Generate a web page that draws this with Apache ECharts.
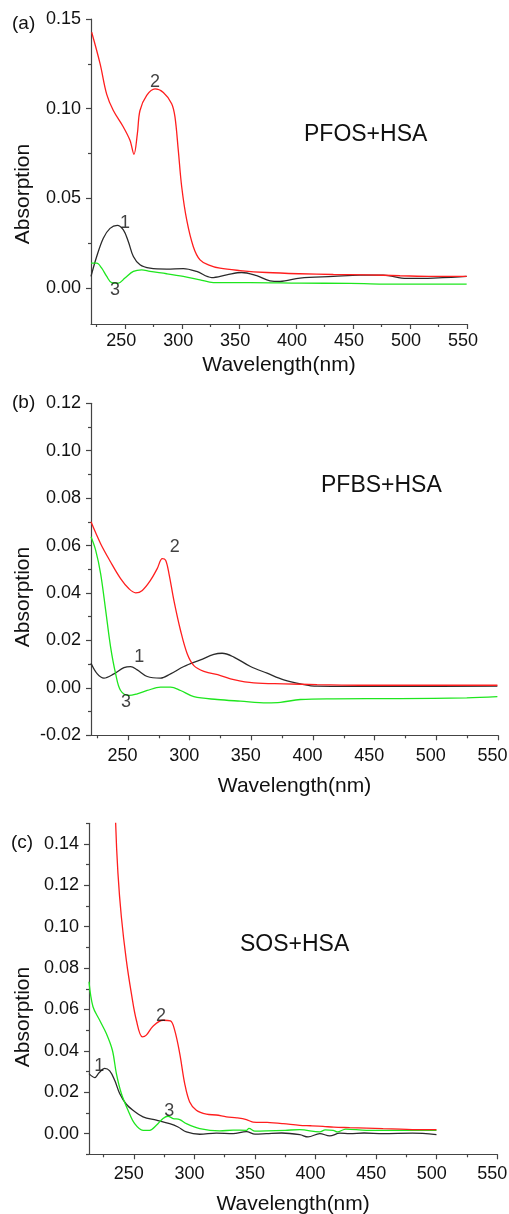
<!DOCTYPE html>
<html><head><meta charset="utf-8">
<script src="https://cdn.jsdelivr.net/npm/echarts@6/dist/echarts.min.js"></script>
<style>html,body{margin:0;padding:0;background:#fff}#c{width:509px;height:1214px}</style>
</head><body><div id="c"></div>
<script>
// ---------- data ----------
const xTicksMajor = [250, 300, 350, 400, 450, 500, 550];
const xTicksMinor = [225, 275, 325, 375, 425, 475, 525];
const yTicksA = [0, 0.05, 0.10, 0.15];
const yMinorA = [0.025, 0.075, 0.125];
const yTicksB = [-0.02, 0, 0.02, 0.04, 0.06, 0.08, 0.10, 0.12];
const yMinorB = [-0.01, 0.01, 0.03, 0.05, 0.07, 0.09, 0.11];
const yTicksC = [0, 0.02, 0.04, 0.06, 0.08, 0.10, 0.12, 0.14];
const yMinorC = [-0.01, 0.01, 0.03, 0.05, 0.07, 0.09, 0.11, 0.13, 0.15];

// (a) PFOS+HSA
const pfos1 = [[220,0.0065],[225,0.0176],[230.8,0.0278],[236.7,0.0333],[243.1,0.035],[248.4,0.0324],[252.8,0.0259],[257.2,0.0176],[263,0.013],[271.8,0.0111],[286.4,0.0106],[301,0.0109],[312.7,0.0093],[325.9,0.0059],[339.1,0.0074],[352.2,0.0087],[365.4,0.0069],[377.1,0.0041],[385.9,0.0037],[403.4,0.0056],[432.7,0.0065],[456.1,0.0072],[476.6,0.0072],[497,0.0054],[520.5,0.0056],[549.7,0.0065]];
const pfos2 = [[220.6,0.1426],[228,0.125],[233.8,0.108],[239.6,0.099],[248.4,0.0898],[254.2,0.0824],[257.7,0.0746],[260.7,0.0861],[263,0.099],[268.9,0.1074],[276.2,0.111],[283.5,0.109],[290.8,0.1028],[293.7,0.0954],[296.6,0.0769],[299.6,0.0565],[304,0.038],[309.8,0.0231],[315.7,0.0157],[323,0.013],[333.2,0.0111],[350.8,0.0098],[374.2,0.0087],[403.4,0.008],[432.7,0.0076],[461.9,0.0074],[491.2,0.0069],[520.5,0.0065],[549.7,0.0065]];
const pfos3 = [[220,0.0139],[225,0.0139],[229.4,0.0111],[233.8,0.0065],[238.1,0.0031],[244,0.0028],[249.8,0.0056],[257.2,0.0093],[264.5,0.0102],[271.8,0.0093],[286.4,0.008],[301,0.0065],[315.7,0.0046],[327.4,0.0031],[359.6,0.0031],[403.4,0.0028],[447.3,0.0026],[491.2,0.0022],[549.7,0.0022]];
// (b) PFBS+HSA
const pfbs1 = [[220,0.0104],[225.1,0.0059],[230.5,0.0041],[238.6,0.0059],[246.7,0.0085],[252.1,0.009],[257.5,0.0076],[265.6,0.0048],[276.4,0.0041],[284.5,0.0059],[295.3,0.009],[308.8,0.0118],[319.6,0.0141],[326.3,0.0146],[335.8,0.013],[349.3,0.009],[362.8,0.0062],[376.3,0.0034],[389.8,0.0017],[403.3,0.0007],[430.3,0.0006],[470.7,0.0006],[549.5,0.0007]];
const pfbs2 = [[220,0.070],[227.8,0.0608],[235.9,0.0531],[244,0.0461],[250.8,0.0418],[256.2,0.0401],[261.6,0.0411],[268.3,0.0454],[273.7,0.0503],[277.8,0.0545],[280.5,0.0538],[283.2,0.0482],[287.2,0.0369],[292.6,0.0242],[298,0.0144],[303.4,0.0094],[311.5,0.007],[325,0.0052],[335.8,0.0035],[352,0.0021],[376.3,0.0017],[403.3,0.0014],[443.8,0.0011],[497.7,0.0011],[549.5,0.0011]];
const pfbs3 = [[220,0.0637],[223.8,0.058],[227.8,0.0482],[231.9,0.0327],[235.9,0.0172],[240,0.0059],[244,-0.0011],[250.8,-0.0032],[257.5,-0.0025],[265.6,-0.0011],[276.4,0.0003],[284.5,0.0003],[292.6,-0.0011],[303.4,-0.0037],[322.3,-0.0049],[341.2,-0.0056],[362.8,-0.0063],[373.6,-0.0061],[389.8,-0.0049],[416.8,-0.0046],[470.7,-0.0045],[524.7,-0.0042],[549.5,-0.0037]];
// (c) SOS+HSA
const sos1 = [[213,0.029],[217.7,0.0271],[221.3,0.0294],[225.9,0.0315],[230.1,0.0303],[234.2,0.0258],[238.3,0.0194],[243.8,0.0142],[249.3,0.0113],[257.6,0.0081],[268.6,0.0065],[279.6,0.0048],[286.5,0.0032],[293.4,0.0008],[304.4,-0.0003],[318,0.0002],[331.9,0],[342.9,0.001],[350,-0.0002],[359.4,0],[372,0.0003],[387,-0.0005],[393.8,-0.0016],[403.5,0],[411.7,-0.0011],[420,0.0002],[428.2,0],[440,0.0003],[455.8,0],[480,0.0002],[499.8,-0.0005]];
const sos2 = [[233.5,0.19],[235,0.150],[236.9,0.1258],[239.7,0.1048],[243.8,0.0839],[248,0.0677],[252.1,0.0548],[257,0.0468],[260.3,0.0476],[265.8,0.0519],[274.1,0.0548],[280.2,0.0545],[283.7,0.05],[287.9,0.0387],[292,0.0242],[296.1,0.0153],[301.6,0.0113],[309.9,0.0094],[318,0.009],[326.4,0.0081],[335,0.0076],[342.9,0.0068],[348.4,0.0056],[360,0.0054],[373.2,0.0048],[387,0.004],[396,0.0038],[406.2,0.0035],[415,0.0031],[428.2,0.0029],[442,0.0027],[455.8,0.0024],[470,0.0022],[483.3,0.0019],[499.8,0.0019]];
const sos3 = [[213,0.0734],[216.3,0.0613],[221.8,0.0548],[227.3,0.0484],[232.3,0.0403],[235.6,0.029],[239.7,0.0194],[245.2,0.0113],[250.7,0.0048],[257.6,0.0016],[263.1,0.0016],[268.6,0.004],[274.1,0.0073],[278.2,0.0084],[282.4,0.0073],[287.9,0.0068],[293.4,0.0048],[304.4,0.0024],[320.9,0.0013],[332,0.0017],[342.9,0.0016],[345,0.0025],[350,0.0012],[359.4,0.0013],[375,0.0016],[387,0.0019],[403.5,0.0008],[408,0.0018],[414.5,0.0016],[418,0.0008],[425,0.0022],[442,0.0016],[469.5,0.0016],[499.8,0.0016]];

const curveLabelsA = [[276.2,0.1149,'2'],[249.8,0.0364,'1'],[241,-0.0009,'3']];
const curveLabelsB = [[288,0.0593,'2'],[259.1,0.0129,'1'],[248.3,-0.0061,'3']];
const curveLabelsC = [[272.5,0.0568,'2'],[221.5,0.0328,'1'],[279.3,0.011,'3']];

// ---------- chart ----------
const FF = '"Liberation Sans", Arial, Helvetica, sans-serif';
const AX = '#444';
const TXT = '#111';
const RED = '#ff1e1e', GREEN = '#1ee61e', BLACK = '#2a2a2a';

const panels = [
  {grid:{left:91, top:19, width:376, height:305}, xmin:220, xmax:550, ymin:-0.02, ymax:0.15,
   yMaj:yTicksA, yMin:yMinorA, xLabelMargin:8, xNameGap:31, xShift:8, yNameY:194,
   curves:[pfos1,pfos2,pfos3], labels:curveLabelsA},
  {grid:{left:91, top:403.3, width:407, height:332}, xmin:220, xmax:550, ymin:-0.02, ymax:0.12,
   yMaj:yTicksB, yMin:yMinorB, xLabelMargin:12, xNameGap:40, xShift:11, yNameY:597,
   curves:[pfbs1,pfbs2,pfbs3], labels:curveLabelsB},
  {grid:{left:89, top:823.3, width:408.3, height:331}, xmin:213, xmax:550, ymin:-0.01, ymax:0.15,
   yMaj:yTicksC, yMin:yMinorC, xLabelMargin:11, xNameGap:39, xShift:10, yNameY:1017,
   curves:[sos1,sos2,sos3], labels:curveLabelsC}
];

const grid = [], xAxis = [], yAxis = [], series = [], graphic = [];
panels.forEach((p, i) => {
  grid.push(Object.assign({outerBoundsMode:'none', containLabel:false}, p.grid));
  xAxis.push({type:'value', gridIndex:i, position:'bottom', min:p.xmin, max:p.xmax,
    axisLine:{show:true, onZero:false, lineStyle:{color:AX, width:1.2}},
    axisTick:{show:true, customValues:xTicksMajor, length:5, lineStyle:{color:AX, width:1.2}},
    axisLabel:{customValues:xTicksMajor, margin:p.xLabelMargin,
      formatter:v => '{s|' + v + '}',
      rich:{s:{fontSize:18, color:TXT, fontFamily:FF, padding:[0, p.xShift, 0, 0]}}},
    splitLine:{show:false},
    name:'Wavelength(nm)', nameLocation:'middle', nameGap:p.xNameGap,
    nameTextStyle:{fontSize:21, color:TXT, fontFamily:FF}});
  xAxis.push({type:'value', gridIndex:i, position:'bottom', min:p.xmin, max:p.xmax,
    axisLine:{show:false, onZero:false},
    axisTick:{show:true, customValues:xTicksMinor, length:3, lineStyle:{color:AX, width:1.2}},
    axisLabel:{show:false}, splitLine:{show:false}});
  yAxis.push({type:'value', gridIndex:i, position:'left', min:p.ymin, max:p.ymax,
    axisLine:{show:true, onZero:false, lineStyle:{color:AX, width:1.2}},
    axisTick:{show:true, customValues:p.yMaj, length:5, lineStyle:{color:AX, width:1.2}},
    axisLabel:{customValues:p.yMaj, fontSize:18, color:TXT, fontFamily:FF, margin:10,
      formatter:v => v.toFixed(2)},
    splitLine:{show:false}});
  yAxis.push({type:'value', gridIndex:i, position:'left', min:p.ymin, max:p.ymax,
    axisLine:{show:false, onZero:false},
    axisTick:{show:true, customValues:p.yMin, length:3, lineStyle:{color:AX, width:1.2}},
    axisLabel:{show:false}, splitLine:{show:false}});
  const colors = [BLACK, RED, GREEN];
  p.curves.forEach((d, k) => {
    series.push({type:'line', xAxisIndex:2*i, yAxisIndex:2*i, data:d, showSymbol:false,
      smooth:0.35, clip:true, silent:true,
      lineStyle:{color:colors[k], width:1.3}, z:k===1?3:2});
  });
  series.push({type:'scatter', xAxisIndex:2*i, yAxisIndex:2*i, symbolSize:0, silent:true,
    data:p.labels.map(l => ({value:[l[0], l[1]], name:l[2]})),
    label:{show:true, position:'inside', formatter:'{b}', fontSize:18, color:TXT, fontFamily:FF}, z:5});
  graphic.push({type:'text', x:23.5, y:p.yNameY, rotation:Math.PI/2,
    style:{text:'Absorption', fontSize:21, fill:TXT, fontFamily:FF, align:'center', verticalAlign:'middle'}});
});

const titleText = (t, x, y, size) => ({type:'text', left:x, top:y,
  style:{text:t, fontSize:size, fill:TXT, fontFamily:FF}});
graphic.push(
  titleText('(a)', 12, 14, 19),
  titleText('(b)', 12, 393, 19),
  titleText('(c)', 11, 833, 19),
  titleText('PFOS+HSA', 304, 123, 23),
  titleText('PFBS+HSA', 321, 474, 23),
  titleText('SOS+HSA', 240, 933, 23)
);

const chart = echarts.init(document.getElementById('c'), null, {renderer:'canvas'});
chart.setOption({
  backgroundColor:'#fff', animation:false,
  grid, xAxis, yAxis, series, graphic
});
</script></body></html>
